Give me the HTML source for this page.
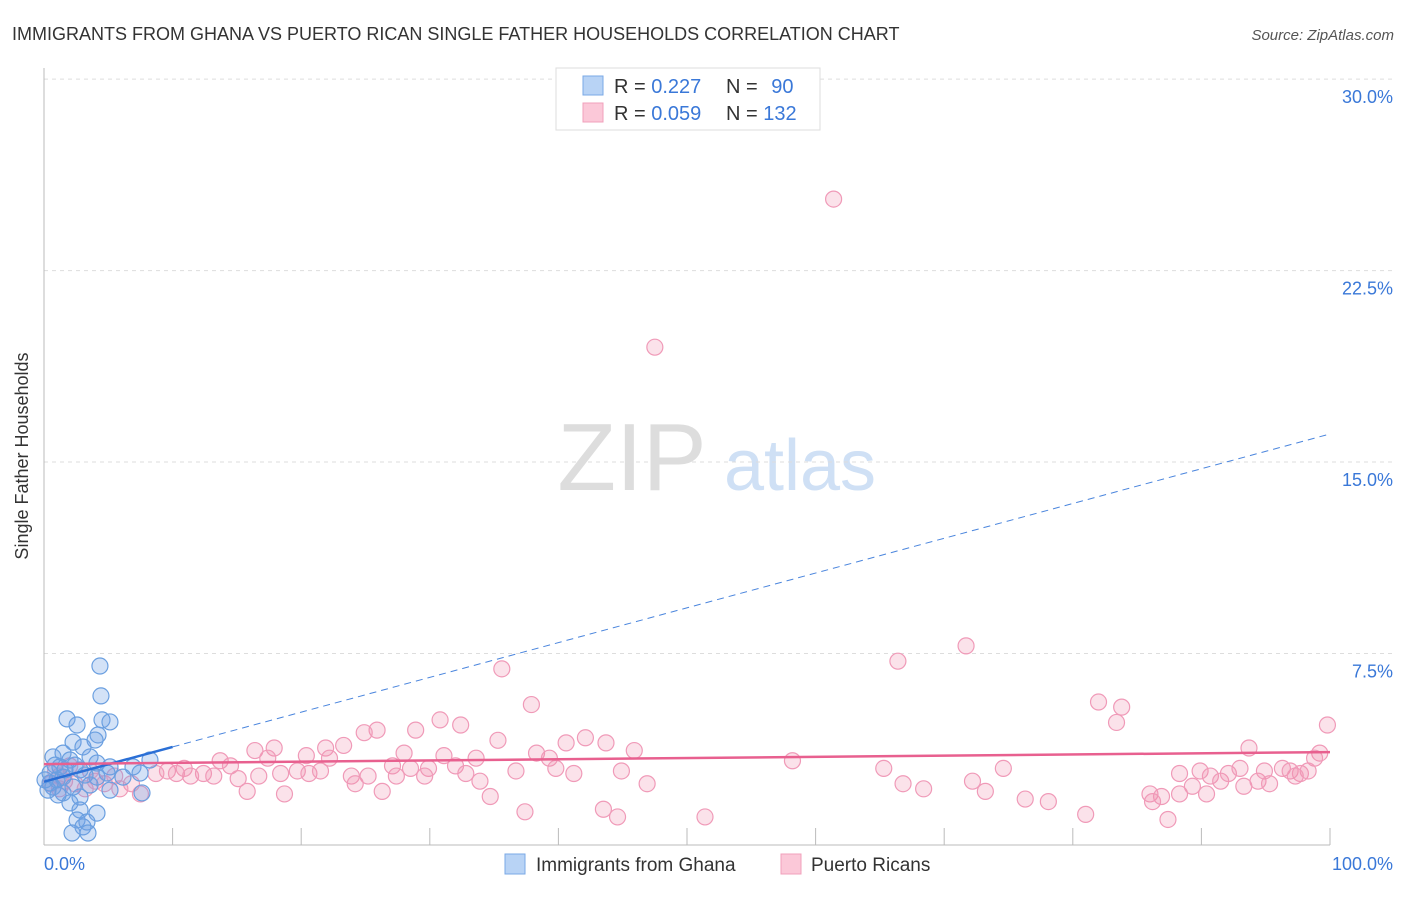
<!DOCTYPE html>
<html><head><meta charset="utf-8"><style>
body{margin:0;background:#fff;font-family:"Liberation Sans",sans-serif;}
svg text{font-family:"Liberation Sans",sans-serif;}
</style></head><body>
<svg width="1406" height="892" xmlns="http://www.w3.org/2000/svg">
<text x="12" y="40" font-size="18" fill="#333">IMMIGRANTS FROM GHANA VS PUERTO RICAN SINGLE FATHER HOUSEHOLDS CORRELATION CHART</text>
<text x="1394" y="40" font-size="15" fill="#555" text-anchor="end" font-style="italic">Source: ZipAtlas.com</text>
<text x="632" y="490" font-size="96" fill="#ddd" font-family="Liberation Serif" text-anchor="middle">ZIP</text>
<text x="800" y="490" font-size="72" fill="#cfe0f5" text-anchor="middle">atlas</text>
<g id="grid"></g>
<line x1="44" y1="68" x2="44" y2="845" stroke="#bbb"/>
<line x1="44" y1="845" x2="1330" y2="845" stroke="#bbb"/>
<g id="xticks"></g>
<g id="pink"></g><g id="blue"></g><g id="trends"></g>
<text x="28" y="456" font-size="18" fill="#333" text-anchor="middle" transform="rotate(-90 28 456)">Single Father Households</text>
<text x="44" y="870" font-size="18" fill="#3a78d8">0.0%</text>
<text x="1393" y="870" font-size="18" fill="#3a78d8" text-anchor="end">100.0%</text>
<g>
<rect x="556" y="68" width="264" height="62" fill="#fff" stroke="#ddd"/>
<rect x="583" y="76" width="20" height="19" fill="#b8d3f5" stroke="#7aa8e6"/>
<rect x="583" y="103" width="20" height="19" fill="#fbc8d8" stroke="#f0a0bb"/>
<text x="614" y="93" font-size="20" fill="#333">R = <tspan fill="#3a78d8">0.227</tspan></text>
<text x="726" y="93" font-size="20" fill="#333">N = <tspan fill="#3a78d8" dx="8">90</tspan></text>
<text x="614" y="120" font-size="20" fill="#333">R = <tspan fill="#3a78d8">0.059</tspan></text>
<text x="726" y="120" font-size="20" fill="#333">N = <tspan fill="#3a78d8">132</tspan></text>
</g>
<g><rect x="505" y="854" width="20" height="20" fill="#b8d3f5" stroke="#7aa8e6"/><text x="536" y="871" font-size="19" fill="#333">Immigrants from Ghana</text></g>
<g><rect x="781" y="854" width="20" height="20" fill="#fbc8d8" stroke="#f0a0bb"/><text x="811" y="871" font-size="19" fill="#333">Puerto Ricans</text></g>
</svg>
<script>
const yTicks=[7.5,15,22.5,30];
const yTickLabels=["7.5%","15.0%","22.5%","30.0%"];
const blueX=[4.35,4.43,1.79,2.57,4.51,5.13,4.20,3.97,2.26,3.03,1.48,0.70,2.02,3.58,4.12,8.24,5.13,6.92,7.47,1.24,2.80,0.47,1.48,4.12,4.90,6.14,0.70,2.26,5.13,7.62,2.80,2.02,2.80,4.12,2.57,3.34,3.03,2.18,3.42,0.47,1.01,1.48,0.86,1.63,3.19,2.41,3.58,0.31,1.09,0.08];
const blueY=[7.01,5.84,4.94,4.70,4.90,4.82,4.31,4.11,4.03,3.84,3.60,3.45,3.33,3.45,3.21,3.33,3.06,3.06,2.82,3.06,2.94,2.82,2.66,2.66,2.82,2.66,2.27,2.27,2.15,2.04,1.88,1.65,1.37,1.25,0.98,0.90,0.71,0.47,0.47,2.43,2.55,2.04,3.13,2.94,2.74,3.13,2.35,2.15,1.96,2.55];
const pinkX=[61.4,47.5,66.4,71.7,35.6,37.9,82.0,83.8,83.4,99.8,30.8,32.4,28.9,25.9,24.9,35.3,42.1,40.6,43.7,45.9,93.7,99.2,98.8,16.4,17.9,21.9,23.3,20.4,17.4,28.0,31.1,33.6,38.3,39.3,32.0,29.9,27.1,28.5,22.2,13.7,14.5,10.9,9.6,12.4,8.7,10.3,11.4,13.2,15.1,16.7,18.4,19.7,20.6,21.5,23.9,25.2,27.4,29.6,32.8,36.7,39.8,41.2,44.9,58.2,65.3,74.6,24.2,33.9,46.9,15.8,18.7,26.3,34.7,7.5,6.8,66.8,68.4,72.2,73.2,76.3,78.1,81.0,37.4,43.5,44.6,51.4,86.0,86.9,88.3,86.2,87.4,88.3,89.9,90.7,89.3,90.4,91.5,92.1,93.0,93.3,94.4,94.9,95.3,96.3,96.9,97.7,98.3,97.3,0.9,1.2,0.5,1.6,2.4,3.2,4.0,4.7,5.5,5.9,2.0,3.6,1.2];
const pinkY=[25.3,19.5,7.2,7.8,6.9,5.5,5.6,5.4,4.8,4.7,4.9,4.7,4.5,4.5,4.4,4.1,4.2,4.0,4.0,3.7,3.8,3.6,3.4,3.7,3.8,3.8,3.9,3.5,3.4,3.6,3.5,3.4,3.6,3.4,3.1,3.0,3.1,3.0,3.4,3.3,3.1,3.0,2.9,2.8,2.8,2.8,2.7,2.7,2.6,2.7,2.8,2.9,2.8,2.9,2.7,2.7,2.7,2.7,2.8,2.9,3.0,2.8,2.9,3.3,3.0,3.0,2.4,2.5,2.4,2.1,2.0,2.1,1.9,2.0,2.4,2.4,2.2,2.5,2.1,1.8,1.7,1.2,1.3,1.4,1.1,1.1,2.0,1.9,2.0,1.7,1.0,2.8,2.9,2.7,2.3,2.0,2.5,2.8,3.0,2.3,2.5,2.9,2.4,3.0,2.9,2.8,2.9,2.7,2.9,2.7,2.4,2.5,2.4,2.2,2.5,2.4,2.7,2.2,3.1,2.9,2.2];
const blueTrend=[2.48,16.1];
const pinkTrend=[3.17,3.64];
const NS="http://www.w3.org/2000/svg";
const sx=v=>44+v*12.86, sy=v=>845-v*25.53;
function mk(tag,parent,attrs){const e=document.createElementNS(NS,tag);for(const k in attrs)e.setAttribute(k,attrs[k]);document.getElementById(parent).appendChild(e);return e;}
yTicks.forEach((t,i)=>{
 const l=mk('line','grid',{x1:44,x2:1392,y1:sy(t),y2:sy(t),stroke:'#ddd','stroke-dasharray':'4,4'});
 
 
 const tx=mk('text','grid',{x:1393,y:sy(t)+24,'font-size':18,fill:'#3a78d8','text-anchor':'end'});
 tx.textContent=yTickLabels[i];
 
 
});
for(let i=1;i<=10;i++){const l=mk('line','xticks',{x1:sx(i*10),x2:sx(i*10),y1:828,y2:845,stroke:'#bbb'});
 
 }
pinkX.forEach((x,i)=>{const c=mk('circle','pink',{cx:sx(x),cy:sy(pinkY[i]),r:8,fill:'rgba(240,140,170,0.25)',stroke:'#f09ab8','stroke-width':1.2});
 
 });
blueX.forEach((x,i)=>{const c=mk('circle','blue',{cx:sx(x),cy:sy(blueY[i]),r:8,fill:'rgba(110,160,230,0.3)',stroke:'#6a9fe0','stroke-width':1.2});
 
 });
const bAt=x=>blueTrend[0]+(blueTrend[1]-blueTrend[0])*x/100;
const pAt=x=>pinkTrend[0]+(pinkTrend[1]-pinkTrend[0])*x/100;
let t=mk('line','trends',{x1:sx(10),y1:sy(bAt(10)),x2:sx(100),y2:sy(bAt(100)),stroke:'#4a85dd','stroke-width':1,'stroke-dasharray':'7,5'});


t=mk('line','trends',{x1:sx(0),y1:sy(bAt(0)),x2:sx(10),y2:sy(bAt(10)),stroke:'#2a6fd6','stroke-width':2.5});


t=mk('line','trends',{x1:sx(0),y1:sy(pAt(0)),x2:sx(100),y2:sy(pAt(100)),stroke:'#e8608f','stroke-width':2.5});


</script>
</body></html>
